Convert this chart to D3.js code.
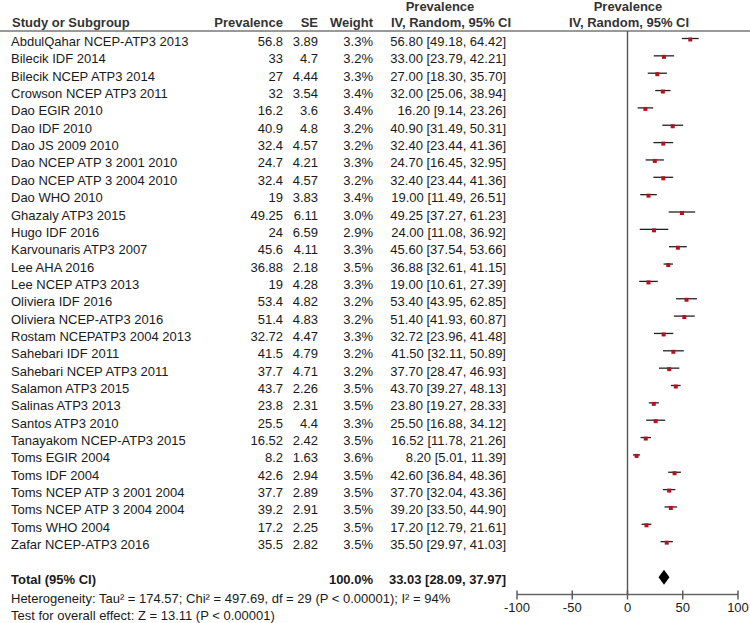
<!DOCTYPE html>
<html><head><meta charset="utf-8">
<script src="https://cdn.jsdelivr.net/npm/d3@7"></script>
<style>
html,body{margin:0;padding:0;background:#fff;}
svg text{font-family:"Liberation Sans",Arial,sans-serif;font-size:13px;fill:#1a1a1a;}
</style></head>
<body>
<svg id="chart" width="750" height="623"></svg>
<script>
const studies = ["AbdulQahar NCEP-ATP3 2013","Bilecik IDF 2014","Bilecik NCEP ATP3 2014","Crowson NCEP ATP3 2011","Dao EGIR 2010","Dao IDF 2010","Dao JS 2009 2010","Dao NCEP ATP 3 2001 2010","Dao NCEP ATP 3 2004 2010","Dao WHO 2010","Ghazaly ATP3 2015","Hugo IDF 2016","Karvounaris ATP3 2007","Lee AHA 2016","Lee NCEP ATP3 2013","Oliviera IDF 2016","Oliviera NCEP-ATP3 2016","Rostam NCEPATP3 2004 2013","Sahebari IDF 2011","Sahebari NCEP ATP3 2011","Salamon ATP3 2015","Salinas ATP3 2013","Santos ATP3 2010","Tanayakom NCEP-ATP3 2015","Toms EGIR 2004","Toms IDF 2004","Toms NCEP ATP 3 2001 2004","Toms NCEP ATP 3 2004 2004","Toms WHO 2004","Zafar NCEP-ATP3 2016"];
const prevalence = ["56.8","33","27","32","16.2","40.9","32.4","24.7","32.4","19","49.25","24","45.6","36.88","19","53.4","51.4","32.72","41.5","37.7","43.7","23.8","25.5","16.52","8.2","42.6","37.7","39.2","17.2","35.5"];
const se = ["3.89","4.7","4.44","3.54","3.6","4.8","4.57","4.21","4.57","3.83","6.11","6.59","4.11","2.18","4.28","4.82","4.83","4.47","4.79","4.71","2.26","2.31","4.4","2.42","1.63","2.94","2.89","2.91","2.25","2.82"];
const weight = [3.3,3.2,3.3,3.4,3.4,3.2,3.2,3.3,3.2,3.4,3.0,2.9,3.3,3.5,3.3,3.2,3.2,3.3,3.2,3.2,3.5,3.5,3.3,3.5,3.6,3.5,3.5,3.5,3.5,3.5];
const estimate = [56.80,33.00,27.00,32.00,16.20,40.90,32.40,24.70,32.40,19.00,49.25,24.00,45.60,36.88,19.00,53.40,51.40,32.72,41.50,37.70,43.70,23.80,25.50,16.52,8.20,42.60,37.70,39.20,17.20,35.50];
const lower = [49.18,23.79,18.30,25.06,9.14,31.49,23.44,16.45,23.44,11.49,37.27,11.08,37.54,32.61,10.61,43.95,41.93,23.96,32.11,28.47,39.27,19.27,16.88,11.78,5.01,36.84,32.04,33.50,12.79,29.97];
const upper = [64.42,42.21,35.70,38.94,23.26,50.31,41.36,32.95,41.36,26.51,61.23,36.92,53.66,41.15,27.39,62.85,60.87,41.48,50.89,46.93,48.13,28.33,34.12,21.26,11.39,48.36,43.36,44.90,21.61,41.03];
const total = {label:"Total (95% CI)", weight:"100.0%", est:33.03, lo:28.09, hi:37.97};
const footnotes = ["Heterogeneity: Tau\u00b2 = 174.57; Chi\u00b2 = 497.69, df = 29 (P < 0.00001); I\u00b2 = 94%","Test for overall effect: Z = 13.11 (P < 0.00001)"];
const axisTicks = [-100,-50,0,50,100];

const svg = d3.select("#chart");
const x = d3.scaleLinear().domain([-100,100]).range([517,738]);
const rowBase = d3.scaleLinear().domain([0,1]).range([46,63.35]); // text baseline per row index
const fmt2 = d3.format(".2f");

// header
const hdr = svg.append("g").attr("font-weight","bold");
function ht(t,xp,y,anchor){hdr.append("text").attr("x",xp).attr("y",y).attr("text-anchor",anchor).attr("font-weight","bold").style("fill","#333").text(t);}
ht("Prevalence",440,11,"middle");
ht("Prevalence",628,11,"middle");
ht("Study or Subgroup",12,27,"start");
ht("Prevalence",283,27,"end");
ht("SE",318,27,"end");
ht("Weight",373,27,"end");
ht("IV, Random, 95% CI",451,27,"middle");
ht("IV, Random, 95% CI",629,27,"middle");
svg.append("line").attr("x1",0).attr("x2",750).attr("y1",31).attr("y2",31).attr("stroke","#777").attr("stroke-width",1.6);

// rows
const rows = svg.append("g").selectAll("g").data(studies).join("g");
rows.append("text").attr("x",11).attr("y",(d,i)=>rowBase(i)).text(d=>d);
rows.append("text").attr("x",283).attr("y",(d,i)=>rowBase(i)).attr("text-anchor","end").text((d,i)=>prevalence[i]);
rows.append("text").attr("x",318).attr("y",(d,i)=>rowBase(i)).attr("text-anchor","end").text((d,i)=>se[i]);
rows.append("text").attr("x",373).attr("y",(d,i)=>rowBase(i)).attr("text-anchor","end").text((d,i)=>weight[i].toFixed(1)+"%");
rows.append("text").attr("x",506).attr("y",(d,i)=>rowBase(i)).attr("text-anchor","end")
  .text((d,i)=>fmt2(estimate[i])+" ["+fmt2(lower[i])+", "+fmt2(upper[i])+"]");

// zero line
const axisY = 594.5;
svg.append("line").attr("x1",x(0)).attr("x2",x(0)).attr("y1",31).attr("y2",axisY).attr("stroke","#555").attr("stroke-width",1.4);

// CI lines and squares
rows.append("line").attr("x1",(d,i)=>x(lower[i])).attr("x2",(d,i)=>x(upper[i]))
  .attr("y1",(d,i)=>rowBase(i)-7.5).attr("y2",(d,i)=>rowBase(i)-7.5).attr("stroke","#222").attr("stroke-width",1.3);
rows.append("rect").attr("width",d=>4).attr("height",4)
  .attr("x",(d,i)=>x(estimate[i])-2).attr("y",(d,i)=>rowBase(i)-8.5).attr("fill","#b3121f");

// total
const tb = rowBase(31);
svg.append("text").attr("x",11).attr("y",tb).attr("font-weight","bold").text(total.label);
svg.append("text").attr("x",373).attr("y",tb).attr("text-anchor","end").attr("font-weight","bold").text(total.weight);
svg.append("text").attr("x",506).attr("y",tb).attr("text-anchor","end").attr("font-weight","bold")
  .text(fmt2(total.est)+" ["+fmt2(total.lo)+", "+fmt2(total.hi)+"]");
const dy = tb-6.5;
svg.append("path").attr("d",`M${x(total.lo)},${dy} L${x(total.est)},${dy-7.5} L${x(total.hi)},${dy} L${x(total.est)},${dy+7.5} Z`).attr("fill","#000");

// footnotes
svg.append("text").attr("x",11).attr("y",602.5).text(footnotes[0]);
svg.append("text").attr("x",11).attr("y",620).text(footnotes[1]);

// axis
const ag = svg.append("g");
ag.append("line").attr("x1",x(-100)).attr("x2",x(100)).attr("y1",axisY).attr("y2",axisY).attr("stroke","#666").attr("stroke-width",1.6);
ag.selectAll("line.t").data(axisTicks).join("line").attr("class","t")
  .attr("x1",d=>x(d)).attr("x2",d=>x(d)).attr("y1",axisY-4).attr("y2",axisY+5).attr("stroke","#555").attr("stroke-width",1.4);
ag.selectAll("text").data(axisTicks).join("text").attr("x",d=>x(d)).attr("y",612).attr("text-anchor","middle").text(d=>d);
</script>
</body></html>
